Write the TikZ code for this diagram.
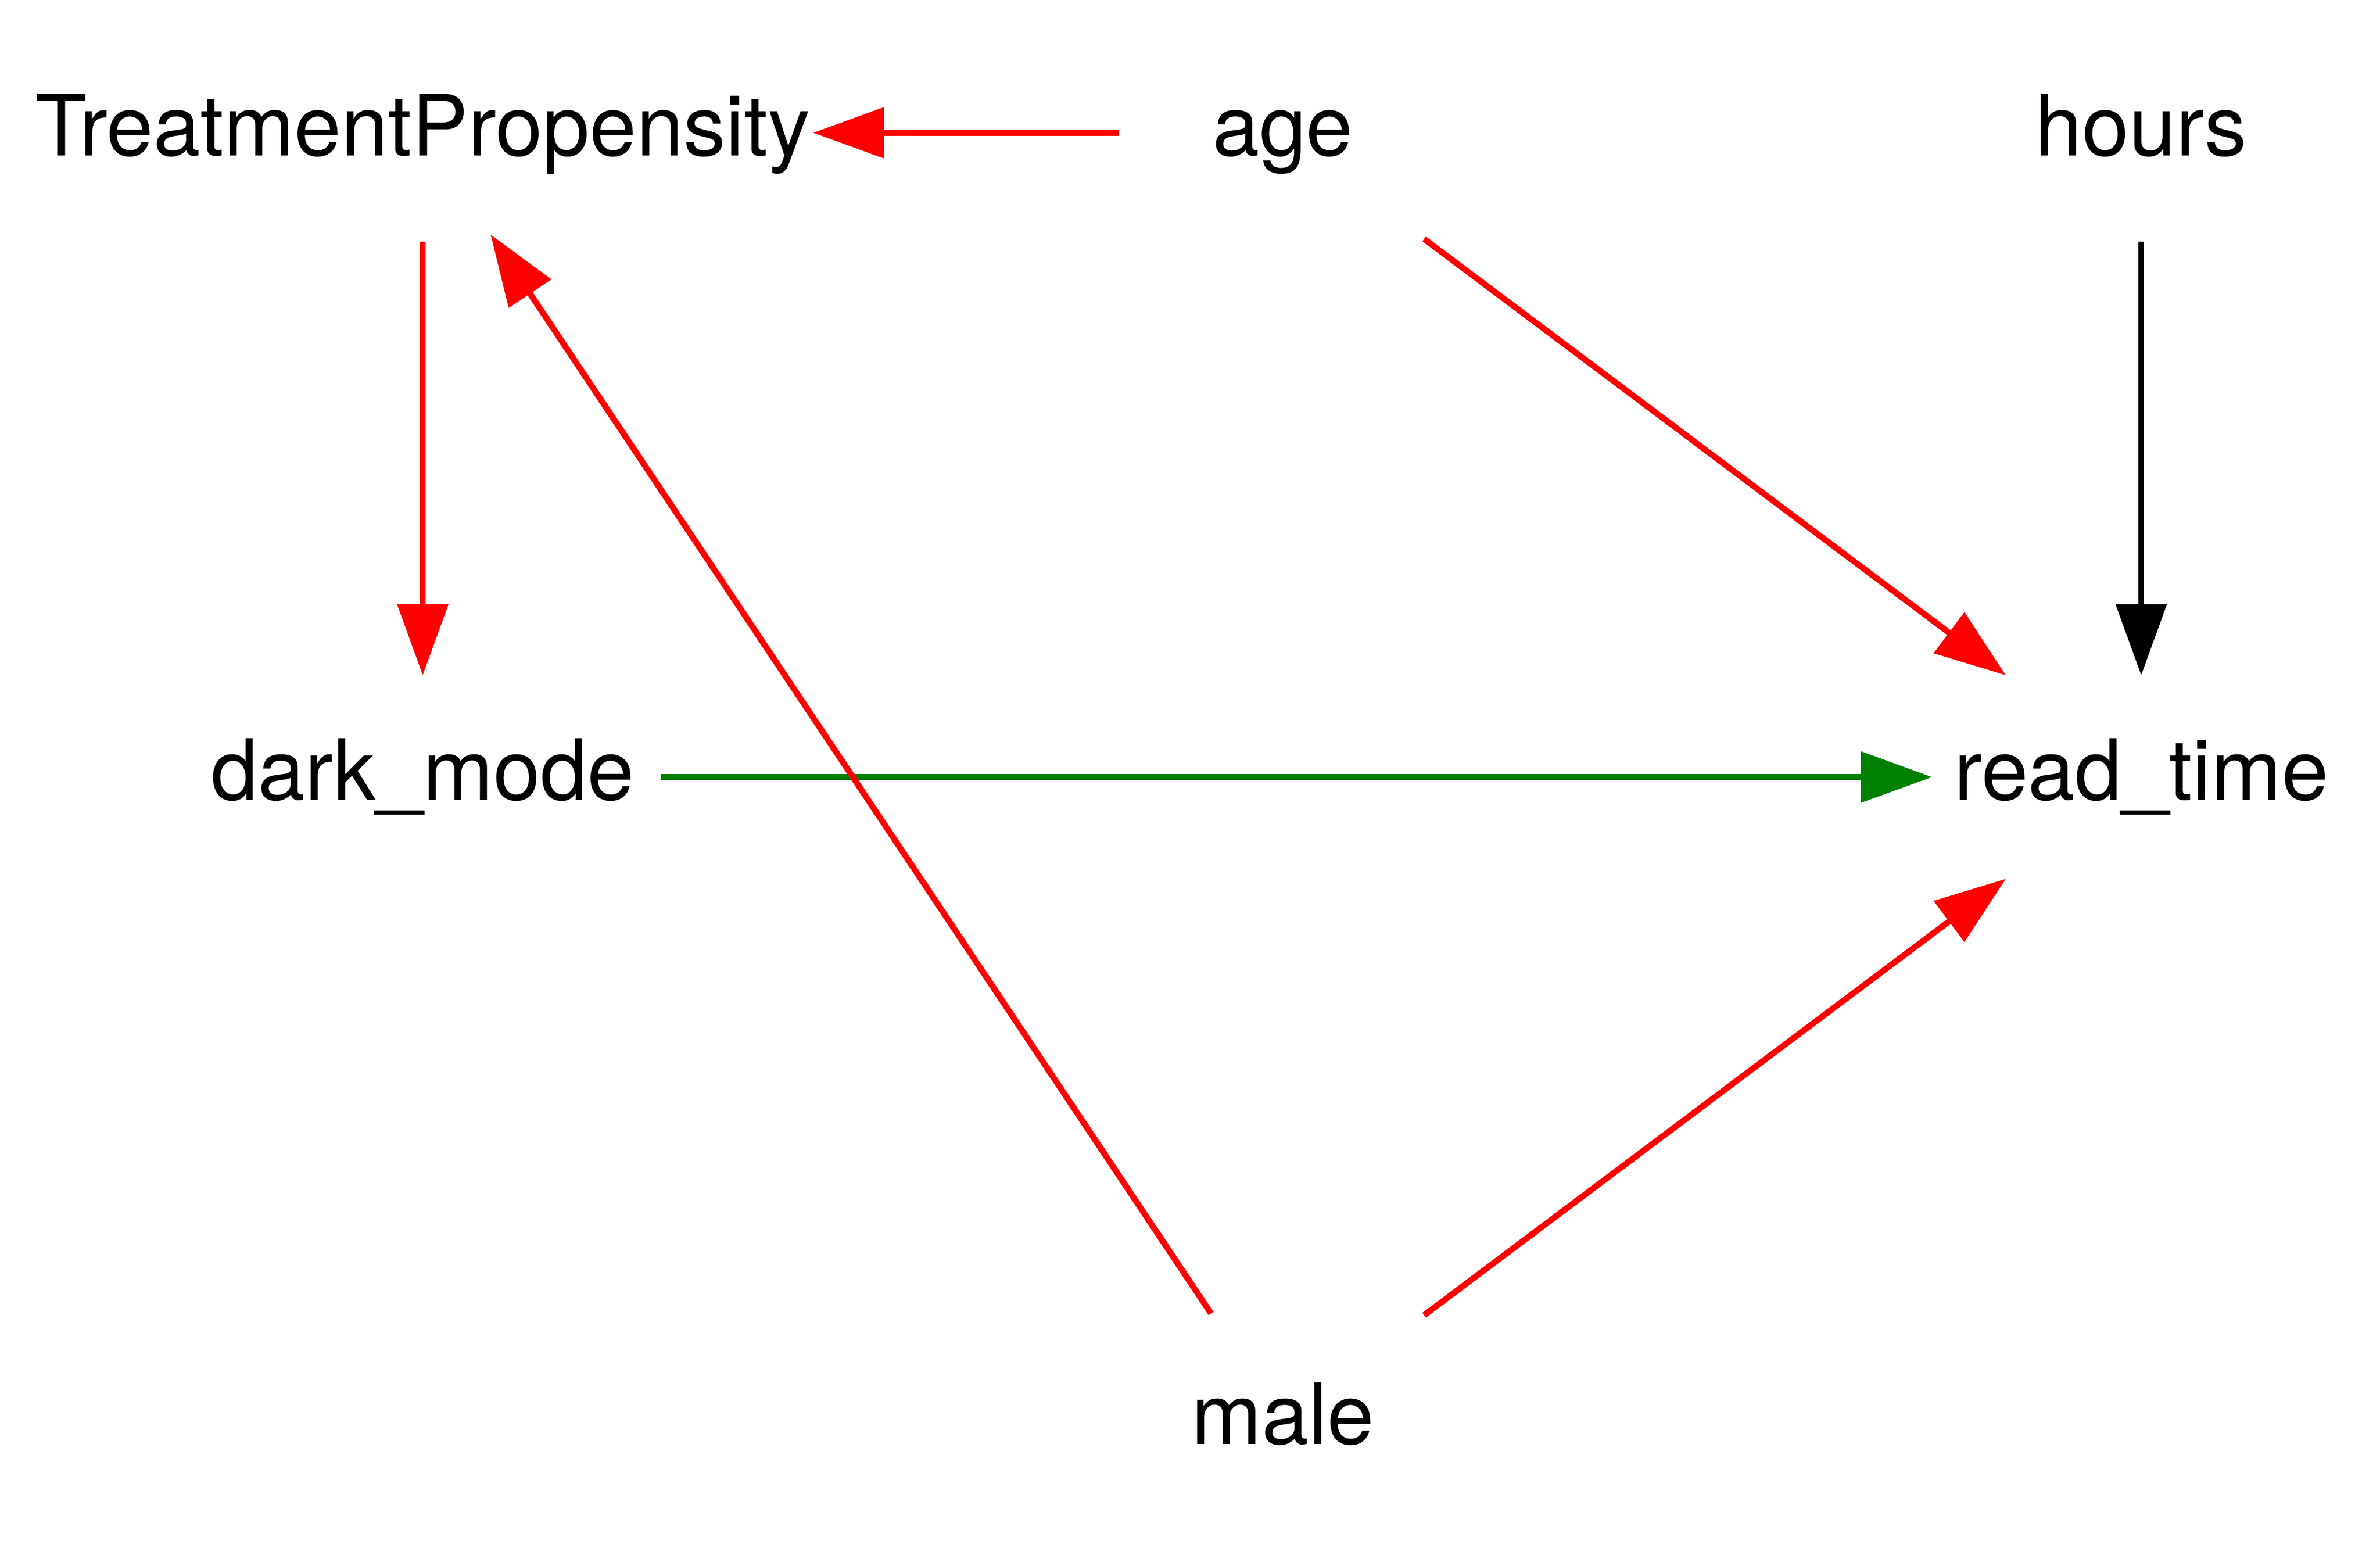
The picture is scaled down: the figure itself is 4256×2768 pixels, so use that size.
\documentclass[tikz,border=0pt]{standalone}
\usepackage{fontspec}
\setmainfont{TeX Gyre Heros}
\usetikzlibrary{arrows.meta}
\definecolor{gvgreen}{RGB}{0,128,0}
\definecolor{gvred}{RGB}{255,0,0}
\begin{document}
\begin{tikzpicture}[x=0.1pt,y=-0.1pt,
  var/.style={rectangle, inner sep=0pt, minimum height=36pt,
    text height=11pt, text depth=2.7pt,
    font=\fontsize{15.1pt}{17pt}\selectfont},
  edge/.style={line width=1.07pt, -{Triangle[length=12.7pt,width=8.9pt]},
    shorten <=1.3pt}]
\useasboundingbox (0,0) rectangle (4256,2768);
\node[var, minimum width=139.2pt] (tp)    at (756,237.5)   {TreatmentPropensity};
\node[var, minimum width=55.6pt]  (age)   at (2294,237.5)  {age};
\node[var, minimum width=54pt]    (hours) at (3829,237.5)  {hours};
\node[var, minimum width=82.2pt]  (dark)  at (756,1389.5)  {dark\_mode};
\node[var, minimum width=74.4pt]  (read)  at (3829,1389.5) {read\_time};
\node[var, minimum width=54pt]    (male)  at (2294,2541.5) {male};
\draw[edge, gvred]   (age)   -- (tp);
\draw[edge, gvred]   (tp)    -- (dark);
\draw[edge, gvred]   (age)   -- (read);
\draw[edge, black]   (hours) -- (read);
\draw[edge, gvgreen] (dark)  -- (read);
\draw[edge, gvred]   (male)  -- (tp);
\draw[edge, gvred]   (male)  -- (read);
\end{tikzpicture}
\end{document}
